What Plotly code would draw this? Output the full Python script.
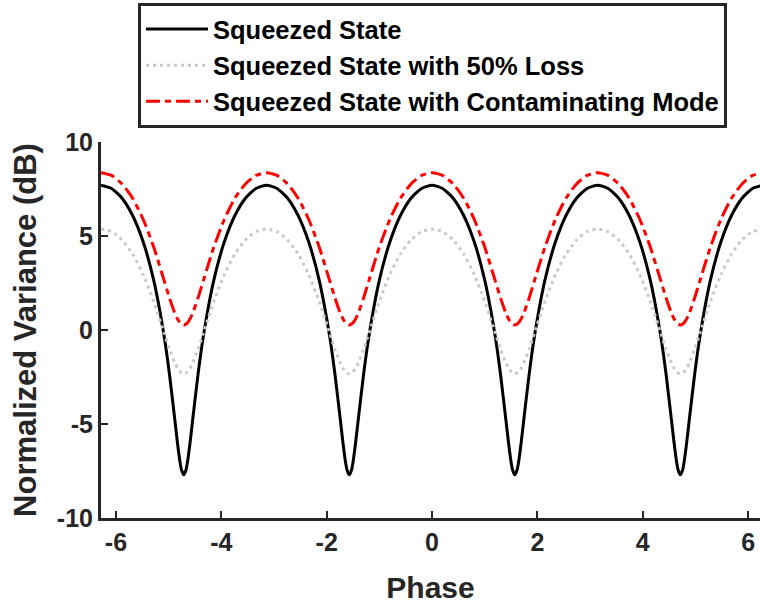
import plotly.graph_objects as go

phase = [
    -6.283, -6.083, -5.883, -5.683, -5.483, -5.283, -5.083, -4.983, -4.883, -4.833, -4.783, -4.753, -4.712,
    -4.672, -4.642, -4.592, -4.542, -4.442, -4.342, -4.142, -3.942, -3.742, -3.542, -3.342, -3.142,
    -2.942, -2.742, -2.542, -2.342, -2.142, -1.942, -1.842, -1.742, -1.692, -1.642, -1.612, -1.571,
    -1.530, -1.500, -1.450, -1.400, -1.300, -1.200, -1.000, -0.800, -0.600, -0.400, -0.200, 0.000,
    0.200, 0.400, 0.600, 0.800, 1.000, 1.200, 1.300, 1.400, 1.450, 1.500, 1.530, 1.571,
    1.612, 1.642, 1.692, 1.742, 1.842, 1.942, 2.142, 2.342, 2.542, 2.742, 2.942, 3.142,
    3.342, 3.542, 3.742, 3.942, 4.142, 4.342, 4.442, 4.542, 4.592, 4.642, 4.672, 4.712,
    4.753, 4.783, 4.833, 4.883, 4.983, 5.083, 5.283, 5.483, 5.683, 5.883, 6.083, 6.283,
]

squeezed = [
    7.70, 7.53, 7.01, 6.09, 4.69, 2.65, -0.36, -2.37, -4.75, -5.97, -7.03, -7.46, -7.70,
    -7.46, -7.03, -5.97, -4.75, -2.37, -0.36, 2.65, 4.69, 6.09, 7.01, 7.53, 7.70,
    7.53, 7.01, 6.09, 4.69, 2.65, -0.36, -2.37, -4.75, -5.97, -7.03, -7.46, -7.70,
    -7.46, -7.03, -5.97, -4.75, -2.37, -0.36, 2.65, 4.69, 6.09, 7.01, 7.53, 7.70,
    7.53, 7.01, 6.09, 4.69, 2.65, -0.36, -2.37, -4.75, -5.97, -7.03, -7.46, -7.70,
    -7.46, -7.03, -5.97, -4.75, -2.37, -0.36, 2.65, 4.69, 6.09, 7.01, 7.53, 7.70,
    7.53, 7.01, 6.09, 4.69, 2.65, -0.36, -2.37, -4.75, -5.97, -7.03, -7.46, -7.70,
    -7.46, -7.03, -5.97, -4.75, -2.37, -0.36, 2.65, 4.69, 6.09, 7.01, 7.53, 7.70,
]

loss50 = [
    5.37, 5.23, 4.79, 4.04, 2.95, 1.52, -0.18, -1.03, -1.75, -2.03, -2.22, -2.29, -2.33,
    -2.29, -2.22, -2.03, -1.75, -1.03, -0.18, 1.52, 2.95, 4.04, 4.79, 5.23, 5.37,
    5.23, 4.79, 4.04, 2.95, 1.52, -0.18, -1.03, -1.75, -2.03, -2.22, -2.29, -2.33,
    -2.29, -2.22, -2.03, -1.75, -1.03, -0.18, 1.52, 2.95, 4.04, 4.79, 5.23, 5.37,
    5.23, 4.79, 4.04, 2.95, 1.52, -0.18, -1.03, -1.75, -2.03, -2.22, -2.29, -2.33,
    -2.29, -2.22, -2.03, -1.75, -1.03, -0.18, 1.52, 2.95, 4.04, 4.79, 5.23, 5.37,
    5.23, 4.79, 4.04, 2.95, 1.52, -0.18, -1.03, -1.75, -2.03, -2.22, -2.29, -2.33,
    -2.29, -2.22, -2.03, -1.75, -1.03, -0.18, 1.52, 2.95, 4.04, 4.79, 5.23, 5.37,
]

contaminated = [
    8.37, 8.22, 7.77, 7.01, 5.89, 4.41, 2.61, 1.70, 0.90, 0.60, 0.38, 0.31, 0.27,
    0.31, 0.38, 0.60, 0.90, 1.70, 2.61, 4.41, 5.89, 7.01, 7.77, 8.22, 8.37,
    8.22, 7.77, 7.01, 5.89, 4.41, 2.61, 1.70, 0.90, 0.60, 0.38, 0.31, 0.27,
    0.31, 0.38, 0.60, 0.90, 1.70, 2.61, 4.41, 5.89, 7.01, 7.77, 8.22, 8.37,
    8.22, 7.77, 7.01, 5.89, 4.41, 2.61, 1.70, 0.90, 0.60, 0.38, 0.31, 0.27,
    0.31, 0.38, 0.60, 0.90, 1.70, 2.61, 4.41, 5.89, 7.01, 7.77, 8.22, 8.37,
    8.22, 7.77, 7.01, 5.89, 4.41, 2.61, 1.70, 0.90, 0.60, 0.38, 0.31, 0.27,
    0.31, 0.38, 0.60, 0.90, 1.70, 2.61, 4.41, 5.89, 7.01, 7.77, 8.22, 8.37,
]

series_names = [
    "Squeezed State",
    "Squeezed State with 50% Loss",
    "Squeezed State with Contaminating Mode",
]

x_ticks = [-6, -4, -2, 0, 2, 4, 6]
x_tick_labels = ["-6", "-4", "-2", "0", "2", "4", "6"]
y_ticks = [-10, -5, 0, 5, 10]
y_tick_labels = ["-10", "-5", "0", "5", "10"]

FONT = "Liberation Sans, Arial, Helvetica, sans-serif"
AX = "#262626"

fig = go.Figure()
fig.add_trace(go.Scatter(x=phase, y=squeezed, mode="lines", name=series_names[0],
                         line=dict(color="black", width=3, shape="spline", smoothing=0.6)))
fig.add_trace(go.Scatter(x=phase, y=loss50, mode="lines", name=series_names[1],
                         line=dict(color="#c8c8c8", width=3, dash="3px,4px", shape="spline", smoothing=0.6)))
fig.add_trace(go.Scatter(x=phase, y=contaminated, mode="lines", name=series_names[2],
                         line=dict(color="#ff0000", width=3, dash="14px,5px,6px,5px", shape="spline", smoothing=0.6)))

fig.update_layout(
    width=760, height=608,
    margin=dict(l=101, r=0, t=142, b=90),
    paper_bgcolor="white", plot_bgcolor="white",
    font=dict(family=FONT, color=AX, weight="bold"),
    showlegend=True,
    legend=dict(
        x=0.0561, y=1.3697, xanchor="left", yanchor="top",
        bgcolor="white", bordercolor=AX, borderwidth=3,
        font=dict(family=FONT, size=25.5, color="black", weight="bold"),
        tracegroupgap=0, itemwidth=62,
    ),
    xaxis=dict(
        range=[-6.283, 6.224], tickmode="array", tickvals=x_ticks, ticktext=x_tick_labels,
        ticks="inside", ticklen=7, tickwidth=2, tickcolor=AX,
        showline=True, linecolor=AX, linewidth=3, showgrid=False, zeroline=False,
        tickfont=dict(family=FONT, size=25, color=AX, weight="bold"),
        title=dict(text="Phase", font=dict(family=FONT, size=30, color=AX, weight="bold"), standoff=22),
    ),
    yaxis=dict(
        range=[-10, 10], tickmode="array", tickvals=y_ticks, ticktext=y_tick_labels,
        ticks="inside", ticklen=7, tickwidth=2, tickcolor=AX,
        showline=True, linecolor=AX, linewidth=3, showgrid=False, zeroline=False,
        tickfont=dict(family=FONT, size=25, color=AX, weight="bold"),
        title=dict(text="Normalized Variance (dB)", font=dict(family=FONT, size=31, color=AX, weight="bold"), standoff=12),
    ),
)

fig.write_html("out.html")
